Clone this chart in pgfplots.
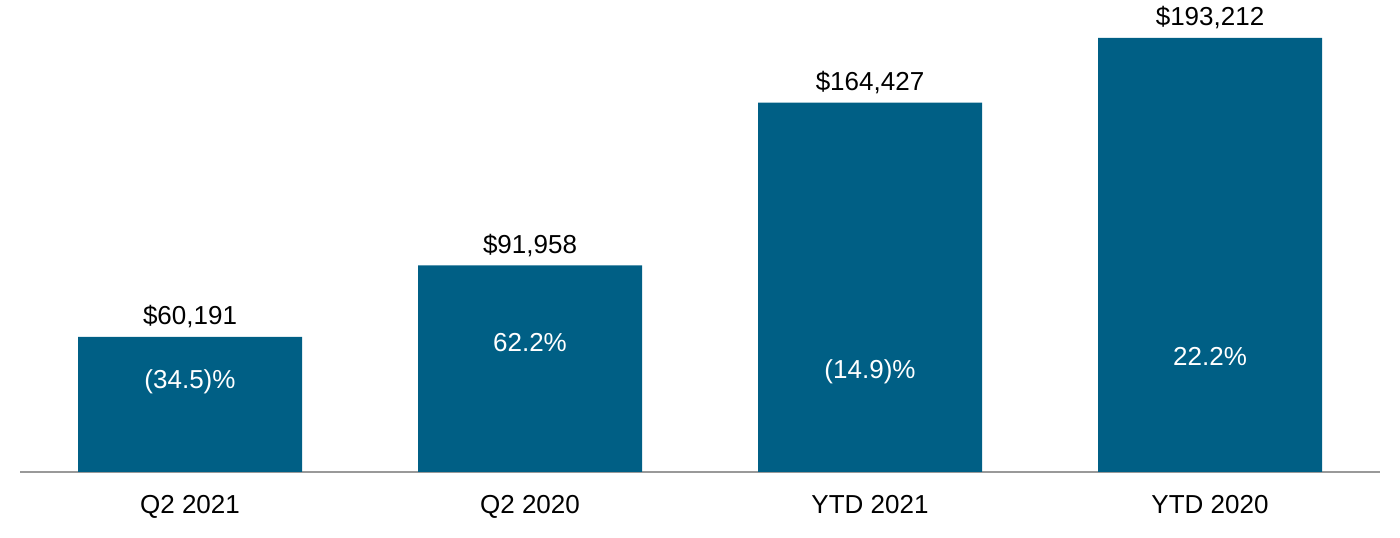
\documentclass[border=0pt]{standalone}
\usepackage{fontspec}
\setmainfont{Liberation Sans}
\usepackage{pgfplots}
\pgfplotsset{compat=1.18}
\definecolor{barblue}{RGB}{0,95,133}
\begin{document}
\begin{tikzpicture}
\begin{axis}[
  scale only axis, width=680pt, height=236pt,
  xmin=-0.5, xmax=3.5, ymin=0, ymax=210130,
  axis x line*=bottom, axis y line=none,
  x axis line style={draw=black!40, line width=1pt},
  xtick={0,1,2,3},
  xticklabels={Q2 2021, Q2 2020, YTD 2021, YTD 2020},
  major tick length=0pt,
  xticklabel style={font=\fontsize{13}{15}\selectfont, anchor=base, yshift=-21pt, inner sep=0pt},
  clip=false,
]
\addplot[ybar, bar width=112pt, fill=barblue, draw=none,
  point meta=explicit symbolic,
  nodes near coords={\$\pgfplotspointmeta},
  nodes near coords style={font=\fontsize{13}{15}\selectfont, anchor=base, inner sep=0pt, yshift=6pt, text=black}]
  table[x=x, y=y, meta=lab] {
x y lab
0 60191 60,191
1 91958 91,958
2 164427 164,427
3 193212 193,212
};
\addplot[only marks, mark=none, draw=none,
  point meta=explicit symbolic,
  nodes near coords={\pgfplotspointmeta\%},
  nodes near coords style={font=\fontsize{13}{15}\selectfont, anchor=center, inner sep=0pt, text=white}]
  table[x=x, y=y, meta=lab] {
x y lab
0 40300 (34.5)
1 57800 62.2
2 44600 (14.9)
3 51500 22.2
};
\end{axis}
\pgfresetboundingbox
\path[use as bounding box] ([xshift=-10pt, yshift=-33pt]current axis.south west) rectangle ([xshift=10pt]current axis.north east);
\end{tikzpicture}
\end{document}
